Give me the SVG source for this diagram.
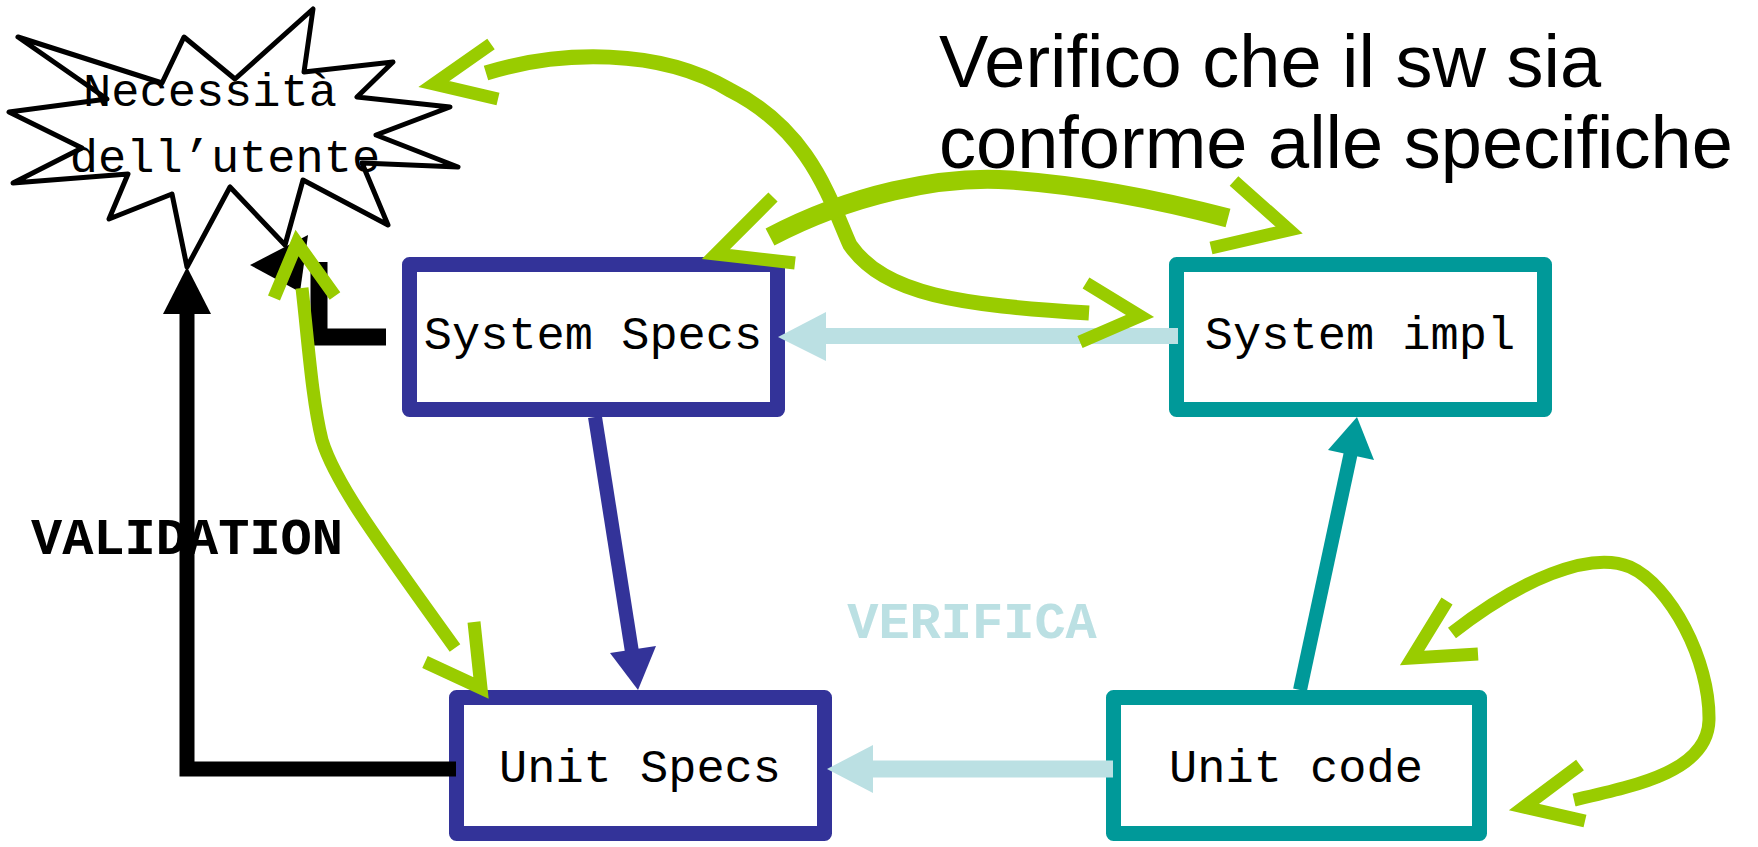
<svg xmlns="http://www.w3.org/2000/svg" width="1758" height="847" viewBox="0 0 1758 847">
  <style>
    .box { fill: #ffffff; stroke-width: 15; stroke-linejoin: round; }
    .navy { stroke: #333399; }
    .teal { stroke: #009999; }
    .mono { font-family: "Liberation Mono", "Courier New", monospace; fill: #000000; }
    .lbl { font-size: 47px; text-anchor: middle; }
    .tag { font-size: 52px; font-weight: bold; text-anchor: middle; }
    .sans { font-family: "Liberation Sans", Arial, sans-serif; font-size: 74px; fill: #000000; }
    .green { fill: none; stroke: #99cc00; stroke-linecap: butt; stroke-linejoin: round; }
    .head { fill: none; stroke: #99cc00; stroke-width: 13; stroke-linecap: butt; stroke-linejoin: miter; stroke-miterlimit: 10; }
    .bar { fill: none; stroke-linecap: butt; stroke-linejoin: miter; }
  </style>

  <!-- user needs: explosion shape -->
  <g id="necessita">
    <polygon points="18,37 162,83 184,37 235,79 313,9 304,72 393,62 357,97 450,107 376,135 458,167 362,163 388,225 303,180 285,245 230,187 187,267 172,194 109,219 128,174 13,183 82,148 9,112 107,99"
             fill="#ffffff" stroke="#000000" stroke-width="5" stroke-linejoin="round"/>
    <text class="mono lbl" x="210" y="106">Necessità</text>
    <text class="mono lbl" x="225" y="172">dell’utente</text>
  </g>

  <!-- boxes -->
  <g id="system-specs">
    <rect class="box navy" x="409.5" y="264.5" width="368" height="145"/>
    <text class="mono lbl" x="593" y="349">System Specs</text>
  </g>
  <g id="system-impl">
    <rect class="box teal" x="1176.5" y="264.5" width="368" height="145"/>
    <text class="mono lbl" x="1360" y="349">System impl</text>
  </g>
  <g id="unit-specs">
    <rect class="box navy" x="456.5" y="697.5" width="368" height="136"/>
    <text class="mono lbl" x="640" y="782">Unit Specs</text>
  </g>
  <g id="unit-code">
    <rect class="box teal" x="1113.5" y="697.5" width="366" height="136"/>
    <text class="mono lbl" x="1296" y="782">Unit code</text>
  </g>

  <!-- connectors -->
  <g id="connectors">
    <!-- validation path back to the user -->
    <path class="bar" d="M456,769 H187 V310" stroke="#000000" stroke-width="15"/>
    <polygon points="187,267 163,314 211,314" fill="#000000"/>
    <path class="bar" d="M386,337 H319 V262" stroke="#000000" stroke-width="17"/>
    <polygon points="250,265 308,235 300,292" fill="#000000"/>

    <!-- refinement: system specs to unit specs -->
    <path class="bar" d="M595,417 L632,652" stroke="#333399" stroke-width="14"/>
    <polygon points="638,690 610,653 656,646" fill="#333399"/>

    <!-- integration: unit code to system impl -->
    <path class="bar" d="M1300,690 L1351,452" stroke="#009999" stroke-width="14"/>
    <polygon points="1357,417 1328,450 1374,460" fill="#009999"/>

    <!-- verification links -->
    <path class="bar" d="M1178,336 H823" stroke="#bbe0e3" stroke-width="16"/>
    <polygon points="778,337 826,312 826,361" fill="#bbe0e3"/>
    <path class="bar" d="M1113,769 H871" stroke="#bbe0e3" stroke-width="17"/>
    <polygon points="827,769 873,745 873,793" fill="#bbe0e3"/>

    <!-- curved double-headed arrows -->
    <path class="green" stroke-width="15" d="M486,73 C560,50 660,48 730,90 C810,130 830,200 850,245 C885,295 960,305 1089,313"/>
    <polyline class="head" points="491,44 434,84 498,99"/>
    <polyline class="head" points="1086,283 1140,316 1080,342"/>

    <path class="green" stroke-width="19" d="M770,237 C850,195 940,175 1010,180 C1080,185 1160,200 1228,218"/>
    <polyline class="head" points="1234,181 1289,230 1211,248"/>
    <polyline class="head" points="773,197 716,254 795,263"/>

    <path class="green" stroke-width="13" d="M302,288 C308,340 312,400 322,440 C334,480 370,530 455,648"/>
    <polyline class="head" points="274,298 297,243 335,296"/>
    <polyline class="head" points="474,622 481,688 425,662"/>

    <path class="green" stroke-width="13" d="M1452,633 C1520,580 1590,550 1630,567 C1670,585 1710,660 1709,720 C1708,770 1640,785 1574,800"/>
    <polyline class="head" points="1447,601 1412,658 1478,654"/>
    <polyline class="head" points="1580,765 1524,807 1585,821"/>

    <text class="mono tag" x="187" y="554">VALIDATION</text>
    <text class="mono tag" x="972" y="638" style="fill:#bbe0e3">VERIFICA</text>
  </g>

  <!-- heading -->
  <g id="heading">
    <text class="sans" x="939" y="87">Verifico che il sw sia</text>
    <text class="sans" x="939" y="168">conforme alle specifiche</text>
  </g>
</svg>
